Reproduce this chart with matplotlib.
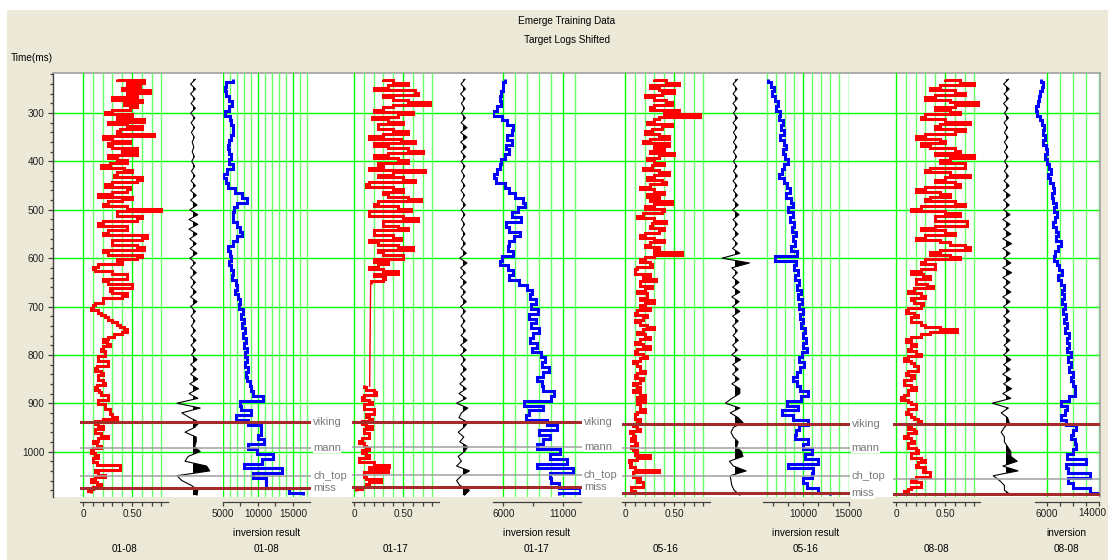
import numpy as np
import matplotlib
matplotlib.use("Agg")
import matplotlib.pyplot as plt
from matplotlib.patches import Rectangle
from matplotlib.transforms import blended_transform_factory, offset_copy

plt.rcParams['font.family'] = ['Liberation Sans', 'DejaVu Sans']
plt.rcParams['font.size'] = 7.2

nan = np.nan

# ---------------------------------------------------------------- data
time_por = np.arange(230, 1086, 5)          # porosity sample times (ms)
time_ms = np.arange(230, 1091, 10)          # inversion / trace sample times (ms)
wells = ['01-08', '01-17', '05-16', '08-08']

# porosity logs (fraction), 5 ms samples
por_0108 = [0.35, 0.62, 0.45, 0.58, 0.40, 0.68, 0.45, 0.55, 0.30, 0.60,
            0.42, 0.55, 0.48, 0.30, 0.22, 0.50, 0.35, 0.62, 0.25, 0.45,
            0.60, 0.38, 0.35, 0.72, 0.20, 0.30, 0.48, 0.25, 0.30, 0.55,
            0.40, 0.55, 0.25, 0.35, 0.45, 0.28, 0.18, 0.42, 0.50, 0.35,
            0.32, 0.60, 0.55, 0.30, 0.22, 0.48, 0.45, 0.30, 0.15, 0.50,
            0.40, 0.25, 0.20, 0.45, 0.80, 0.35, 0.35, 0.60, 0.55, 0.20,
            0.15, 0.45, 0.45, 0.25, 0.20, 0.65, 0.60, 0.30, 0.30, 0.55,
            0.62, 0.20, 0.25, 0.60, 0.55, 0.35, 0.40, 0.15, 0.10, 0.12,
            0.30, 0.45, 0.45, 0.20, 0.25, 0.50, 0.50, 0.28, 0.30, 0.45,
            0.40, 0.20, 0.20, 0.12, 0.10, 0.08, 0.15, 0.18, 0.22, 0.25,
            0.30, 0.35, 0.38, 0.42, 0.45, 0.40, 0.32, 0.25, 0.20, 0.24,
            0.28, 0.20, 0.18, 0.22, 0.22, 0.15, 0.15, 0.25, 0.25, 0.14,
            0.12, 0.18, 0.20, 0.15, 0.15, 0.20, 0.22, 0.14, 0.12, 0.16,
            0.18, 0.25, 0.25, 0.15, 0.15, 0.22, 0.22, 0.28, 0.28, 0.30,
            0.35, 0.20, 0.12, 0.15, 0.20, 0.12, 0.12, 0.18, 0.25, 0.15,
            0.10, 0.14, 0.18, 0.10, 0.08, 0.12, 0.15, 0.10, 0.10, 0.14,
            0.38, 0.38, 0.12, 0.15, 0.22, 0.12, 0.08, 0.14, 0.18, 0.10,
            0.05, 0.08]
por_0117 = [0.30, 0.40, 0.55, 0.35, 0.20, 0.62, 0.65, 0.30, 0.40, 0.55,
            0.78, 0.40, 0.30, 0.20, 0.60, 0.45, 0.18, 0.35, 0.50, 0.25,
            0.25, 0.40, 0.55, 0.30, 0.15, 0.48, 0.62, 0.20, 0.35, 0.55,
            0.70, 0.35, 0.20, 0.45, 0.55, 0.25, 0.30, 0.15, 0.72, 0.40,
            0.25, 0.50, 0.62, 0.15, 0.12, 0.40, 0.50, 0.30, 0.35, 0.55,
            0.68, 0.25, 0.20, 0.45, 0.58, 0.15, 0.15, 0.50, 0.65, 0.30,
            0.30, 0.45, 0.55, 0.20, 0.20, 0.40, 0.48, 0.15, 0.25, 0.45,
            0.60, 0.25, 0.30, 0.50, 0.50, 0.20, 0.35, 0.25, 0.15, 0.30,
            0.45, 0.20, 0.32, 0.30, 0.17, nan, nan, nan, nan, nan,
            nan, nan, nan, nan, nan, nan, nan, nan, nan, nan,
            nan, nan, nan, nan, nan, nan, nan, nan, nan, nan,
            nan, nan, nan, nan, nan, nan, nan, nan, nan, nan,
            nan, nan, nan, nan, nan, nan, nan, 0.10, 0.12, 0.20,
            0.22, 0.10, 0.08, 0.15, 0.18, 0.10, 0.10, 0.20, 0.20, 0.12,
            0.15, 0.18, 0.08, 0.12, 0.18, 0.10, 0.10, 0.15, 0.15, 0.08,
            0.05, 0.10, 0.12, 0.15, 0.08, 0.12, 0.15, 0.05, 0.05, 0.20,
            0.36, 0.15, 0.35, 0.10, 0.10, 0.12, 0.28, 0.15, 0.12, 0.08,
            0.02, nan]
por_0516 = [0.30, 0.42, 0.55, 0.25, 0.35, 0.50, 0.38, 0.20, 0.30, 0.42,
            0.48, 0.30, 0.25, 0.55, 0.40, 0.76, 0.35, 0.30, 0.22, 0.48,
            0.38, 0.28, 0.20, 0.35, 0.45, 0.25, 0.18, 0.45, 0.30, 0.40,
            0.25, 0.50, 0.35, 0.22, 0.30, 0.40, 0.28, 0.18, 0.35, 0.45,
            0.30, 0.22, 0.38, 0.42, 0.25, 0.15, 0.30, 0.40, 0.22, 0.35,
            0.25, 0.48, 0.30, 0.20, 0.40, 0.38, 0.18, 0.12, 0.30, 0.42,
            0.28, 0.25, 0.40, 0.35, 0.20, 0.15, 0.30, 0.40, 0.25, 0.20,
            0.35, 0.30, 0.58, 0.30, 0.20, 0.15, 0.25, 0.28, 0.12, 0.10,
            0.10, 0.25, 0.18, 0.32, 0.15, 0.15, 0.28, 0.20, 0.12, 0.22,
            0.22, 0.15, 0.30, 0.20, 0.15, 0.25, 0.12, 0.10, 0.22, 0.18,
            0.10, 0.15, 0.22, 0.30, 0.18, 0.12, 0.20, 0.25, 0.15, 0.10,
            0.18, 0.25, 0.12, 0.10, 0.18, 0.22, 0.15, 0.08, 0.12, 0.15,
            0.15, 0.20, 0.12, 0.10, 0.18, 0.15, 0.08, 0.12, 0.15, 0.08,
            0.15, 0.20, 0.12, 0.20, 0.12, 0.15, 0.15, 0.20, 0.12, 0.10,
            0.10, 0.15, 0.12, 0.08, 0.12, 0.15, 0.05, 0.08, 0.10, 0.06,
            0.10, 0.12, 0.06, 0.08, 0.12, 0.10, 0.25, 0.12, 0.04, 0.06,
            0.05, 0.10, 0.35, 0.08, 0.08, 0.15, 0.12, 0.18, 0.18, 0.06,
            0.06, 0.10]
por_0808 = [0.50, 0.65, 0.80, 0.45, 0.35, 0.60, 0.70, 0.40, 0.30, 0.55,
            0.85, 0.60, 0.40, 0.55, 0.65, 0.30, 0.25, 0.50, 0.75, 0.45,
            0.40, 0.70, 0.60, 0.30, 0.20, 0.45, 0.50, 0.25, 0.35, 0.60,
            0.65, 0.40, 0.80, 0.55, 0.45, 0.70, 0.70, 0.35, 0.30, 0.55,
            0.75, 0.50, 0.40, 0.60, 0.65, 0.30, 0.20, 0.45, 0.55, 0.35,
            0.30, 0.60, 0.70, 0.25, 0.15, 0.50, 0.65, 0.40, 0.40, 0.72,
            0.72, 0.40, 0.25, 0.50, 0.60, 0.30, 0.20, 0.45, 0.55, 0.70,
            0.75, 0.45, 0.35, 0.55, 0.65, 0.30, 0.25, 0.40, 0.40, 0.25,
            0.15, 0.28, 0.35, 0.20, 0.20, 0.32, 0.38, 0.18, 0.12, 0.25,
            0.30, 0.15, 0.18, 0.28, 0.25, 0.12, 0.10, 0.18, 0.22, 0.15,
            0.15, 0.25, 0.30, 0.45, 0.62, 0.35, 0.25, 0.15, 0.10, 0.15,
            0.20, 0.15, 0.12, 0.20, 0.25, 0.12, 0.08, 0.15, 0.18, 0.22,
            0.22, 0.12, 0.10, 0.18, 0.15, 0.08, 0.08, 0.15, 0.20, 0.12,
            0.12, 0.08, 0.05, 0.12, 0.15, 0.20, 0.20, 0.12, 0.10, 0.15,
            0.18, 0.22, 0.25, 0.15, 0.12, 0.18, 0.20, 0.12, 0.08, 0.15,
            0.18, 0.12, 0.12, 0.20, 0.22, 0.15, 0.15, 0.25, 0.30, 0.22,
            0.20, 0.30, 0.28, 0.35, 0.35, 0.20, 0.15, 0.25, 0.25, 0.15,
            0.12, 0.08]

# thin bridge across the missing porosity interval in 01-17
bridge_0117_t = [652, 865]
bridge_0117_v = [0.17, 0.16]

# inversion result (impedance)
imp_0108 = [6500, 5500, 5300, 5500, 5900, 6300, 5900, 5300, 6000, 6200,
            6400, 6400, 6100, 5900, 5700, 5800, 6200, 5800, 6400, 5600,
            5000, 5400, 5700, 6700, 7700, 8400, 7000, 6600, 6400, 6400,
            7000, 7400, 7700, 7000, 6400, 5700, 6000, 6200, 5800, 6200,
            6500, 6300, 6800, 7000, 6700, 7200, 7500, 7300, 7800, 7600,
            8000, 7700, 8200, 7900, 8300, 8000, 8400, 8100, 8500, 8200,
            8600, 8300, 8400, 8800, 9000, 9300, 10700, 7400, 7600, 9000,
            6900, 8600, 10500, 10500, 10000, 10800, 8600, 9800, 12100, 10600,
            8000, 13400, 9300, 11200, 11200, 14500, 16400]
imp_0117 = [6100, 6000, 6000, 5800, 5700, 5800, 5500, 5100, 5900, 6300,
            6800, 6700, 6300, 6700, 6200, 6500, 6100, 5800, 5700, 5500,
            5200, 5400, 6100, 6500, 7000, 7600, 7800, 7200, 6700, 7500,
            6200, 6500, 7400, 6900, 6500, 6400, 6800, 5900, 5700, 6400,
            6800, 6500, 7300, 8000, 8400, 8200, 8700, 8300, 8900, 8100,
            8700, 8300, 9000, 8500, 8200, 8800, 8400, 9100, 9500, 9200,
            9800, 9300, 8800, 9200, 9300, 10200, 10000, 7700, 9300, 8100,
            7900, 9600, 10500, 9000, 9900, 9300, 8800, 10700, 9900, 11300,
            8800, 11800, 9900, 10000, 10600, 12400, 10600]
imp_0516 = [6100, 6400, 6700, 6500, 6900, 7200, 7000, 7400, 7300, 7700,
            7500, 7800, 7400, 7900, 8100, 7700, 8000, 8300, 7900, 7600,
            7300, 7800, 8200, 8500, 8100, 8600, 8900, 8300, 8800, 8500,
            9000, 8700, 9200, 8800, 9100, 8600, 9300, 6800, 9200, 9000,
            9400, 9100, 9500, 9300, 9700, 9400, 9800, 9500, 9900, 9600,
            10000, 9700, 10200, 9900, 10300, 10000, 10400, 9800, 9500, 10100,
            9600, 9300, 8900, 9300, 9600, 10500, 9700, 8200, 9400, 7600,
            8900, 10500, 9500, 9200, 9100, 10500, 10000, 11000, 10200, 11600,
            8300, 11100, 11000, 10000, 10400, 11600, 13000]
imp_0808 = [5100, 5500, 5200, 5000, 4800, 4600, 4400, 4500, 4900, 5200,
            5600, 5400, 5800, 5500, 5900, 6100, 5700, 6000, 6300, 6600,
            6200, 6500, 6900, 7200, 6800, 7000, 7400, 7100, 7600, 7300,
            7000, 7500, 7800, 7400, 8200, 7700, 7300, 7100, 7600, 7900,
            8300, 7800, 8200, 8600, 8300, 8700, 8400, 8900, 8500, 9000,
            8700, 9200, 8800, 9400, 9100, 9500, 9200, 9700, 9300, 9800,
            9500, 10000, 9700, 10000, 10400, 10300, 9500, 8200, 9100, 8900,
            8200, 9000, 10600, 10000, 9800, 10400, 10600, 10000, 9100, 12000,
            9000, 9300, 12700, 9300, 10000, 12700, 14100]

# synthetic seismic traces (normalised amplitude)
syn_0108 = [0.15, -0.15, 0.15, -0.15, 0.12, -0.12, 0.15, -0.15, 0.12, -0.12,
            0.10, -0.10, 0.08, -0.05, 0.05, -0.05, 0.08, -0.08, 0.10, -0.10,
            0.12, -0.12, 0.15, -0.15, 0.20, -0.15, 0.25, -0.20, 0.30, -0.25,
            0.30, -0.25, 0.25, -0.20, 0.20, -0.18, 0.25, -0.20, 0.15, -0.15,
            0.20, -0.15, 0.15, -0.12, 0.20, -0.15, 0.25, -0.15, 0.15, -0.12,
            0.12, -0.10, 0.15, -0.12, 0.18, -0.12, 0.15, -0.10, 0.25, -0.15,
            0.20, -0.15, 0.30, -0.20, 0.35, -0.25, 0.30, -1.00, 0.45, -0.70,
            -0.20, 0.40, 0.10, -0.50, 0.20, 0.20, 0.10, 0.45, -0.30, -0.50,
            0.85, 1.05, -1.00, -0.70, -0.10, 0.30, 0.25]
syn_0117 = [0.12, -0.12, 0.15, -0.15, 0.12, -0.10, 0.10, -0.10, 0.15, -0.12,
            0.25, -0.15, 0.25, -0.15, 0.20, -0.12, 0.15, -0.12, 0.12, -0.10,
            0.10, -0.10, 0.12, -0.12, 0.10, -0.10, 0.15, -0.12, 0.12, -0.10,
            0.10, -0.10, 0.12, -0.10, 0.15, -0.12, 0.20, -0.20, 0.25, -0.15,
            0.15, -0.15, 0.20, -0.15, 0.15, -0.12, 0.20, -0.15, 0.15, -0.12,
            0.12, -0.12, 0.15, -0.12, 0.25, -0.15, 0.20, -0.15, 0.15, -0.12,
            0.20, -0.15, 0.15, -0.20, 0.20, -0.25, 0.20, -0.40, 0.30, -0.10,
            -0.25, 0.30, 0.05, -0.30, 0.05, -0.20, 0.30, 0.10, -0.30, -0.10,
            -0.40, 0.40, -0.10, -0.40, -0.20, 0.40, 0.10]
syn_0516 = [0.15, -0.12, 0.12, -0.12, 0.15, -0.12, 0.12, -0.10, 0.15, -0.12,
            0.12, -0.10, 0.10, -0.10, 0.12, -0.10, 0.10, -0.10, 0.12, -0.10,
            0.15, -0.12, 0.12, -0.10, 0.15, -0.12, 0.20, -0.15, 0.25, -0.12,
            0.15, -0.12, 0.20, -0.15, 0.15, -0.15, 0.30, -0.80, 0.90, -0.20,
            0.15, -0.15, 0.25, -0.15, 0.30, -0.20, 0.25, -0.15, 0.30, -0.15,
            0.20, -0.15, 0.15, -0.12, 0.20, -0.15, 0.15, -0.20, 0.35, -0.15,
            0.20, -0.15, 0.25, -0.20, 0.30, 0.30, -0.20, -0.60, 0.30, -0.30,
            0.20, 0.50, -0.10, -0.25, -0.10, 0.20, 0.10, 0.40, 0.50, -0.35,
            -0.10, 0.70, -0.30, -0.25, -0.20, -0.05, 0.30]
syn_0808 = [0.15, -0.15, 0.20, -0.12, 0.15, -0.15, 0.12, -0.10, 0.15, -0.12,
            0.10, -0.10, 0.12, -0.10, 0.10, -0.10, 0.12, -0.10, 0.12, -0.10,
            0.15, -0.12, 0.20, -0.15, 0.25, -0.15, 0.20, -0.15, 0.25, -0.20,
            0.25, -0.15, 0.30, -0.20, 0.35, -0.20, 0.25, -0.15, 0.30, -0.20,
            0.35, -0.20, 0.25, -0.15, 0.30, -0.20, 0.25, -0.15, 0.20, -0.15,
            0.25, -0.15, 0.20, -0.15, 0.25, -0.12, 0.20, -0.15, 0.30, -0.15,
            0.25, -0.20, 0.30, -0.15, 0.35, -0.20, 0.30, -0.85, 0.15, -0.30,
            0.10, 0.20, -0.10, -0.30, -0.10, -0.10, 0.10, 0.30, 0.30, 0.70,
            -0.20, 0.75, -0.80, -0.40, -0.10, -0.10, 0.30]

# horizon picks (ms)
horizon_names = ['viking', 'mann', 'ch_top', 'miss']
picks_0108 = [939, 992, 1051, 1076]
picks_0117 = [939, 990, 1049, 1074]
picks_0516 = [942, 992, 1051, 1086]
picks_0808 = [944, nan, 1057, 1087]

# axis ticks
time_major = np.arange(300, 1001, 100)
time_minor = np.arange(220, 1081, 20)
por_grid = [0.0, 0.1, 0.2, 0.3, 0.4, 0.5, 0.6, 0.7, 0.8]
por_ticks = [0.0, 0.5]
por_tick_labels = ['0', '0.50']

imp_grid_0108 = list(range(5000, 17001, 1000))
imp_grid_0117 = list(range(6000, 12001, 1000))
imp_grid_0516 = list(range(6000, 15001, 1000))
imp_grid_0808 = list(range(6000, 14001, 2000))
imp_ticks_0108 = [5000, 10000, 15000]
imp_ticks_0117 = [6000, 11000]
imp_ticks_0516 = [10000, 15000]
imp_ticks_0808 = [6000, 14000]
imp_minor_0108 = [7500, 12500]
imp_minor_0117 = [8500]
imp_minor_0516 = [6667, 8333, 11667, 13333]
imp_minor_0808 = [8000, 10000, 12000]

# ---------------------------------------------------------------- layout
W, H = 1108, 560
T_TOP, T_BOT = 217, 1094
PLOT_TOP, PLOT_BOT = 73, 497
BEIGE = '#ECE9D8'
GREEN = '#00FF00'
GREEN_LT = '#66FF66'
AXIS_COL = '#404040'
FS = 7.2

layout = {
    '01-08': dict(red=(80, 168, (-0.031, 0.867)), syn=193,
                  inv=(223, 310, (5000, 17430)), caption='inversion result'),
    '01-17': dict(red=(352, 439, (-0.020, 0.867)), syn=463,
                  inv=(493, 581, (5140, 12475)), caption='inversion result'),
    '05-16': dict(red=(622, 710, (-0.031, 0.867)), syn=735,
                  inv=(763, 848.5, (5520, 15000)), caption='inversion result'),
    '08-08': dict(red=(893, 980, (-0.031, 0.857)), syn=1006,
                  inv=(1035, 1098.5, (4190, 14000)), caption='inversion'),
}

series = {
    '01-08': (por_0108, imp_0108, syn_0108, picks_0108,
              imp_grid_0108, imp_ticks_0108, imp_minor_0108),
    '01-17': (por_0117, imp_0117, syn_0117, picks_0117,
              imp_grid_0117, imp_ticks_0117, imp_minor_0117),
    '05-16': (por_0516, imp_0516, syn_0516, picks_0516,
              imp_grid_0516, imp_ticks_0516, imp_minor_0516),
    '08-08': (por_0808, imp_0808, syn_0808, picks_0808,
              imp_grid_0808, imp_ticks_0808, imp_minor_0808),
}


def rect(x0, x1, y0=PLOT_TOP, y1=PLOT_BOT):
    return [x0 / W, 1 - y1 / H, (x1 - x0) / W, (y1 - y0) / H]


def vstep(t, v):
    """Blocky log: value held constant between sample mid-points."""
    t = np.asarray(t, float)
    v = np.asarray(v, float)
    mid = (t[:-1] + t[1:]) / 2
    tt = np.concatenate([[t[0]], np.repeat(mid, 2), [t[-1]]])
    return np.repeat(v, 2), tt


def track(x0, x1, xlim, axis=True):
    ax = fig.add_axes(rect(x0, x1))
    ax.set_facecolor('none')
    ax.set_ylim(T_BOT, T_TOP)
    ax.set_xlim(*xlim)
    ax.set_yticks([])
    for s in ('left', 'right', 'top'):
        ax.spines[s].set_visible(False)
    if axis:
        ax.spines['bottom'].set_position(('outward', 3.6))
        ax.spines['bottom'].set_color(AXIS_COL)
        ax.spines['bottom'].set_linewidth(0.9)
        ax.tick_params(axis='x', which='both', direction='out', length=3,
                       width=0.9, color=AXIS_COL, pad=2, labelsize=FS,
                       labelcolor='#202020')
    else:
        ax.spines['bottom'].set_visible(False)
        ax.set_xticks([])
    return ax


def px_text(x, y, s, **kw):
    fig.text(x / W, 1 - y / H, s, **kw)


fig = plt.figure(figsize=(W / 100, H / 100), dpi=100, facecolor='white')
fig.patches.append(Rectangle((7 / W, 0), 1 - 7 / W, 1 - 10 / H,
                             transform=fig.transFigure, facecolor=BEIGE,
                             edgecolor='none', zorder=-10))

# time axis and white plotting panel
ax0 = fig.add_axes(rect(52.5, 1100))
ax0.set_facecolor('white')
ax0.set_ylim(T_BOT, T_TOP)
ax0.set_xlim(0, 1)
ax0.set_xticks([])
ax0.set_yticks(time_major)
ax0.set_yticks(time_minor, minor=True)
ax0.tick_params(axis='y', which='major', length=3.8, width=0.9,
                color=AXIS_COL, pad=2, labelsize=FS, labelcolor='#202020')
ax0.tick_params(axis='y', which='minor', length=2.4, width=0.9, color=AXIS_COL)
ax0.yaxis.grid(True, which='major', color=GREEN, lw=1.0)
ax0.spines['bottom'].set_visible(False)
ax0.spines['left'].set_color(AXIS_COL)
ax0.spines['left'].set_linewidth(1.0)
for s in ('top', 'right'):
    ax0.spines[s].set_color('#A0A0A0')
    ax0.spines[s].set_linewidth(1.2)

px_text(567, 21, 'Emerge Training Data', ha='center', va='center', fontsize=FS)
px_text(567, 40, 'Target Logs Shifted', ha='center', va='center', fontsize=FS)
px_text(11, 58, 'Time(ms)', ha='left', va='center', fontsize=FS)

for well in wells:
    lay = layout[well]
    por, imp, syn, picks, igrid, iticks, iminor = series[well]

    # porosity track
    rx0, rx1, rlim = lay['red']
    axr = track(rx0, rx1, rlim)
    for g in por_grid:
        axr.axvline(g, color=GREEN if g in por_ticks else GREEN_LT,
                    lw=1.0, zorder=0.5)
    axr.set_xticks(por_ticks, por_tick_labels)
    axr.set_xticks([g for g in por_grid if g not in por_ticks], minor=True)
    vv, tt = vstep(time_por, por)
    axr.plot(vv, tt, color='#FF0000', lw=2.2, solid_joinstyle='miter',
             solid_capstyle='butt', zorder=2)
    if well == '01-17':
        axr.plot(bridge_0117_v, bridge_0117_t, color='#FF0000', lw=1.0, zorder=2)
    px_text((rx0 + rx1) / 2, 549, well, ha='center', va='center', fontsize=FS)

    # synthetic trace track
    axs = track(lay['syn'] - 20, lay['syn'] + 20, (-1.25, 1.25), axis=False)
    s = np.asarray(syn, float)
    axs.fill_betweenx(time_ms, 0, s, where=s > 0, interpolate=True,
                      color='black', lw=0, zorder=2)
    axs.plot(s, time_ms, color='black', lw=0.8, zorder=3)

    # inversion track
    ix0, ix1, ilim = lay['inv']
    axi = track(ix0, ix1, ilim)
    for g in igrid:
        axi.axvline(g, color=GREEN if g in iticks else GREEN_LT,
                    lw=1.0, zorder=0.5)
    axi.set_xticks(iminor, minor=True)
    if ix1 > 1090:
        # last label sits at the right edge of the figure: shift it inward
        axi.set_xticks(iticks, [str(v) for v in iticks[:-1]] + [''])
        lab_tr = offset_copy(blended_transform_factory(axi.transData, axi.transAxes),
                             fig=fig, x=-6, y=0, units='dots')
        axi.text(iticks[-1], -16 / (PLOT_BOT - PLOT_TOP), str(iticks[-1]),
                 transform=lab_tr, ha='center', va='center', fontsize=FS,
                 color='#202020', clip_on=False)
    else:
        axi.set_xticks(iticks, [str(v) for v in iticks])
    vv, tt = vstep(time_ms, imp)
    axi.plot(vv, tt, color='#0000FF', lw=2.2, solid_joinstyle='miter',
             solid_capstyle='butt', zorder=2)
    px_text((ix0 + ix1) / 2, 533, lay['caption'], ha='center', va='center',
            fontsize=FS)
    px_text((ix0 + ix1) / 2, 549, well, ha='center', va='center', fontsize=FS)

    # horizon picks across the whole well panel
    axh = fig.add_axes(rect(rx0, ix1 + 1))
    axh.set_facecolor('none')
    axh.set_ylim(T_BOT, T_TOP)
    axh.set_xlim(0, 1)
    axh.axis('off')
    trans = blended_transform_factory(axh.transAxes, axh.transData)
    width_px = ix1 + 1 - rx0
    for name, t in zip(horizon_names, picks):
        if np.isnan(t):
            continue
        major = name in ('viking', 'miss')
        axh.axhline(t, color='#A52A2A' if major else '#A0A0A0',
                    lw=2.2 if major else 1.1, zorder=4)
        if well != '08-08':
            axh.text(1 + 2 / width_px, t, name, transform=trans, ha='left',
                     va='center', color='#7A7A7A', fontsize=8,
                     bbox=dict(facecolor='white', edgecolor='none', pad=0.3),
                     zorder=5)

fig.savefig('out.png', dpi=100, facecolor=fig.get_facecolor())
